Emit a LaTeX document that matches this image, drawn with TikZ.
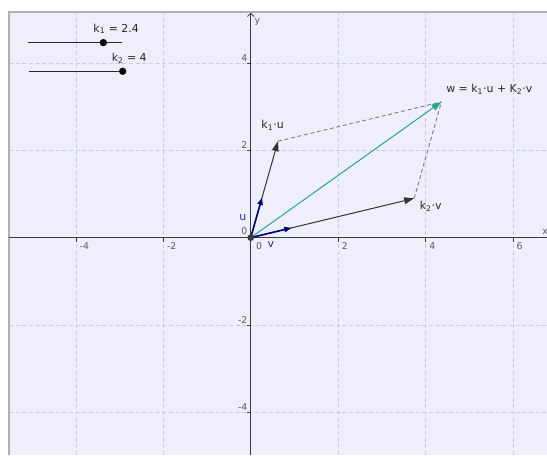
\documentclass[tikz,border=0pt]{standalone}
\usepackage{fontspec}
\setmainfont{DejaVu Sans}
\usetikzlibrary{arrows.meta}
\definecolor{bgl}{RGB}{239,239,251}
\definecolor{framec}{RGB}{176,176,176}
\definecolor{gridc}{RGB}{200,200,242}
\definecolor{axisc}{RGB}{60,60,60}
\definecolor{navy}{RGB}{0,0,128}
\definecolor{navylbl}{RGB}{40,40,170}
\definecolor{tealc}{RGB}{30,168,140}
\definecolor{dashc}{RGB}{128,128,128}
\definecolor{txtc}{RGB}{40,40,40}
\definecolor{ticklbl}{RGB}{90,90,90}
\tikzset{
  gridline/.style={gridc, line width=0.5pt, dash pattern=on 3pt off 2pt},
  tickline/.style={axisc, line width=0.5pt},
  ticklabel/.style={ticklbl, font=\fontsize{7}{8}\selectfont, inner sep=0pt},
  lbl/.style={txtc, inner sep=0pt, font=\fontsize{8.2}{10}\selectfont},
  basevec/.style={navy, line width=1.2pt, -{Triangle[length=5.5pt,width=4pt]}},
  scaledvec/.style={black!80, line width=0.75pt, -{Triangle[length=7.5pt,width=5pt]}},
  sumvec/.style={tealc, line width=0.75pt, -{Triangle[length=7.5pt,width=5pt]}},
  helper/.style={dashc, line width=0.7pt, dash pattern=on 3pt off 2pt},
  sliderline/.style={txtc, line width=0.9pt},
  sliderdot/.style={circle, fill=black, inner sep=0pt, minimum size=5.5pt},
}
\begin{document}
\begin{tikzpicture}[x=32.775pt,y=32.775pt]
\useasboundingbox (-5.737,-4.973) rectangle (6.780,5.439);
\fill[white] (-5.737,-4.973) rectangle (6.780,5.439);
\fill[bgl] (-5.531,-4.973) rectangle (6.780,5.165);
% grid
\foreach \x in {-4,-2,2,4,6} \draw[gridline] (\x,-4.973) -- (\x,5.165);
\foreach \y in {-4,-2,2,4} \draw[gridline] (-5.531,\y) -- (6.780,\y);
% frame
\draw[framec, line width=1.1pt] (-5.531,-4.973) -- (-5.531,5.165) -- (6.780,5.165);
% axes
\coordinate (xl) at (-5.531,0);
\coordinate (xr) at (6.780,0);
\coordinate (yb) at (0,-4.973);
\coordinate (yt) at (0,5.15);
\draw[axisc, line width=0.6pt] (xl) -- (xr);
\draw[axisc, line width=0.6pt, -{Straight Barb[length=2.5pt,width=5pt]}] (yb) -- (yt);
% ticks and labels
\foreach \x in {-4,-2,2,4,6} {
  \draw[tickline] (\x,0) -- (\x,-0.09);
  \node[ticklabel, anchor=north west] (tx\x) at (\x+0.08,-0.11) {\x};
}
\node[ticklabel, anchor=north west] (tx0) at (0.12,-0.11) {0};
\foreach \y in {-4,-2,2,4} {
  \draw[tickline] (0,\y) -- (-0.09,\y);
  \node[ticklabel, anchor=south east] (ty\y) at (-0.07,\y+0.03) {\y};
}
\node[ticklabel, anchor=south east] (ty0) at (-0.07,0.06) {0};
\node[ticklabel] (xlab) at (6.74,0.13) {x};
\node[ticklabel] (ylab) at (0.15,4.93) {y};
% sliders
\coordinate (s1a) at (-5.09,4.464);
\coordinate (s1b) at (-2.945,4.464);
\coordinate (s2a) at (-5.07,3.808);
\coordinate (s2b) at (-2.945,3.808);
\draw[sliderline] (s1a) -- (s1b);
\draw[sliderline] (s2a) -- (s2b);
\node[sliderdot] (d1) at (-3.372,4.464) {};
\node[sliderdot] (d2) at (-2.93,3.808) {};
\node[lbl] (k1lbl) at (-3.08,4.78) {k\textsubscript{1} = 2.4};
\node[lbl] (k2lbl) at (-2.78,4.11) {k\textsubscript{2} = 4};
% vectors
\coordinate (O) at (0,0);
\coordinate (u) at (0.26,0.92);
\coordinate (v) at (0.935,0.225);
\coordinate (ku) at (0.624,2.208);
\coordinate (kv) at (3.74,0.90);
\coordinate (w) at (4.364,3.108);
\draw[helper] (ku) -- (w);
\draw[helper] (kv) -- (w);
\draw[scaledvec] (O) -- (ku);
\draw[scaledvec] (O) -- (kv);
\draw[sumvec] (O) -- (w);
\draw[basevec] (O) -- (u);
\draw[basevec] (O) -- (v);
\node[circle, fill=axisc, inner sep=0pt, minimum size=5pt] (Odot) at (O) {};
% labels
\node[lbl, navylbl] (ulbl) at (-0.18,0.46) {u};
\node[lbl, navylbl] (vlbl) at (0.46,-0.16) {v};
\node[lbl] (kulbl) at (0.50,2.57) {k\textsubscript{1}·u};
\node[lbl] (kvlbl) at (4.12,0.72) {k\textsubscript{2}·v};
\node[lbl] (wlbl) at (5.46,3.40) {w = k\textsubscript{1}·u + K\textsubscript{2}·v};
\end{tikzpicture}
\end{document}
